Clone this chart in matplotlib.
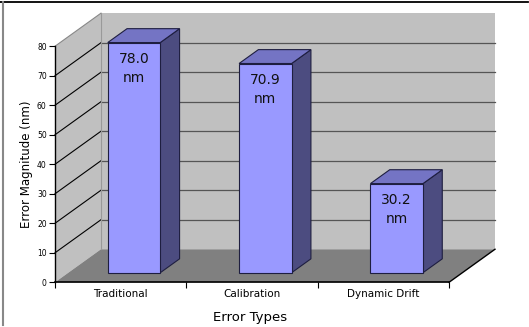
import matplotlib.pyplot as plt
from matplotlib.patches import Polygon
from matplotlib.lines import Line2D

categories = ['Traditional', 'Calibration', 'Dynamic Drift']
errors = [78.0, 70.9, 30.2]
y_ticks = [0, 10, 20, 30, 40, 50, 60, 70, 80]

# oblique depth of the "3D" box, in data units
DX, DY = 0.35, 11.2
Y_MAX = 80
BAR_W = 0.40
D0, D1 = 0.29, 0.71  # bar front/back as fraction of depth


def project(x, y, d):
    return (x + d * DX, y + d * DY)


fig = plt.figure(figsize=(5.29, 3.27), dpi=100)
ax = fig.add_axes([55 / 529, 1 - 282.3 / 327, 440 / 529, 270 / 327])
n = len(categories)
ax.set_xlim(0, n + DX)
ax.set_ylim(0, Y_MAX + 11.5)

# walls and floor
back = [project(0, 0, 1), project(n, 0, 1), project(n, Y_MAX, 1), project(0, Y_MAX, 1)]
side = [(0, 0), project(0, 0, 1), project(0, Y_MAX, 1), (0, Y_MAX)]
floor = [(0, 0), (n, 0), project(n, 0, 1), project(0, 0, 1)]
ax.add_patch(Polygon(back, closed=True, fc='#c0c0c0', ec='none', zorder=0, clip_on=False))
ax.add_patch(Polygon(side, closed=True, fc='#c0c0c0', ec='none', zorder=0, clip_on=False))
ax.add_patch(Polygon(floor, closed=True, fc='#808080', ec='none', zorder=0, clip_on=False))

# gridlines on side wall and back wall
for t in y_ticks[1:-1]:
    p0, p1 = (0, t), project(0, t, 1)
    ax.plot([p0[0], p1[0]], [p0[1], p1[1]], color='black', lw=0.8, zorder=1, clip_on=False)
    p2 = project(n, t, 1)
    ax.plot([p1[0], p2[0]], [p1[1], p2[1]], color='#555555', lw=0.9, zorder=1, clip_on=False)
p0, p1 = (0, Y_MAX), project(0, Y_MAX, 1)
ax.plot([p0[0], p1[0]], [p0[1], p1[1]], color='#888888', lw=0.8, zorder=1, clip_on=False)
pb = project(0, 0, 1)
ax.plot([pb[0], p1[0]], [pb[1], p1[1]], color='#999999', lw=0.8, zorder=1, clip_on=False)
pr = project(n, 0, 1)
ax.plot([n, pr[0]], [0, pr[1]], color='black', lw=1.0, zorder=1, clip_on=False)

# bars
for i, v in enumerate(errors):
    x0 = i + 0.5 - BAR_W / 2
    x1 = i + 0.5 + BAR_W / 2
    front = [project(x0, 0, D0), project(x1, 0, D0), project(x1, v, D0), project(x0, v, D0)]
    right = [project(x1, 0, D0), project(x1, 0, D1), project(x1, v, D1), project(x1, v, D0)]
    top = [project(x0, v, D0), project(x1, v, D0), project(x1, v, D1), project(x0, v, D1)]
    ax.add_patch(Polygon(right, closed=True, fc='#4c4c80', ec='#1e1e40', lw=0.8, zorder=2))
    ax.add_patch(Polygon(top, closed=True, fc='#7474c4', ec='#1e1e40', lw=0.8, zorder=2))
    ax.add_patch(Polygon(front, closed=True, fc='#9999ff', ec='#1e1e40', lw=0.8, zorder=3))
    cx, cy = project(i + 0.5, v, D0)
    ax.annotate(f'{v:.1f}\nnm', (cx, cy), xytext=(0, -7), textcoords='offset points',
                ha='center', va='top', fontsize=10, linespacing=1.45, color='#111111', zorder=4)

# axes
for s in ['top', 'right']:
    ax.spines[s].set_visible(False)
ax.spines['left'].set_bounds(0, Y_MAX)
ax.spines['bottom'].set_bounds(0, n)
ax.spines['left'].set_linewidth(1.0)
ax.spines['bottom'].set_linewidth(1.2)
ax.set_yticks(y_ticks)
ax.tick_params(axis='y', direction='out', length=4, width=0.8, labelsize=5.5, pad=2)
ax.set_xticks(range(n + 1))
ax.set_xticklabels([])
ax.tick_params(axis='x', which='major', direction='out', length=4, width=0.8)
ax.set_xticks([i + 0.5 for i in range(n)], minor=True)
ax.set_xticklabels(categories, minor=True, fontsize=7.5)
ax.tick_params(axis='x', which='minor', length=0, pad=5)

ax.set_ylabel('Error Magnitude (nm)', fontsize=8.5)
ax.yaxis.set_label_coords(-0.05, Y_MAX / 2 / (Y_MAX + 11.5))
ax.set_xlabel('Error Types', fontsize=9.5)
ax.xaxis.label.set_va('center')
ax.xaxis.set_label_coords(0.443, -0.132)

# frame remnants
fig.add_artist(Line2D([0, 528 / 529], [1 - 2 / 327] * 2, color='black', lw=1.3))
fig.add_artist(Line2D([2.5 / 529] * 2, [2 / 327, 1 - 2 / 327], color='#888888', lw=1.5))

fig.savefig('out.png', dpi=100)
